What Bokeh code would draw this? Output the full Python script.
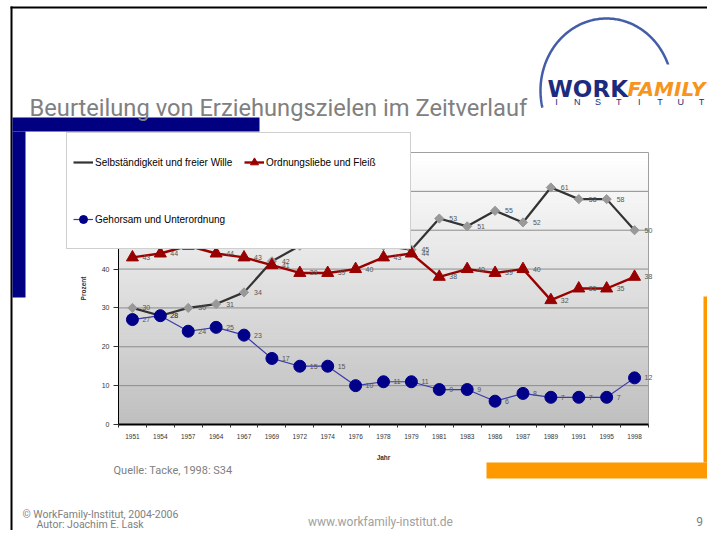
import numpy as np
from bokeh.plotting import figure
from bokeh.models import Range1d, LinearAxis, FixedTicker, Legend, LegendItem
from bokeh.core.properties import value
from bokeh.embed import file_html
from bokeh.resources import INLINE

# ---------------- data ----------------
years = ["1951", "1954", "1957", "1964", "1967", "1969", "1972", "1974", "1976", "1978",
         "1979", "1981", "1983", "1986", "1987", "1989", "1991", "1995", "1998"]
selbst = [30, 28, 30, 31, 34, 42, 46, 49, 48, 46, 45, 53, 51, 55, 52, 61, 58, 58, 50]
ordnung = [43, 44, 46, 44, 43, 41, 39, 39, 40, 43, 44, 38, 40, 39, 40, 32, 35, 35, 38]
gehorsam = [27, 28, 24, 25, 23, 17, 15, 15, 10, 11, 11, 9, 9, 6, 8, 7, 7, 7, 12]
y_ticks = [0, 10, 20, 30, 40, 50, 60, 70]
series_names = ["Selbständigkeit und freier Wille", "Ordnungsliebe und Fleiß",
                "Gehorsam und Unterordnung"]
title_text = "Beurteilung von Erziehungszielen im Zeitverlauf"
source_text = "Quelle: Tacke, 1998: S34"
footer_left = ["© WorkFamily-Institut, 2004-2006", "Autor: Joachim E. Lask"]
footer_mid = "www.workfamily-institut.de"
page_no = "9"
y_title = "Prozent"
x_title = "Jahr"

# ---------------- geometry (picture pixels) ----------------
W, H = 707, 530
PL, PR, PT, PB = 118, 648, 152, 424
YMAX = 70
n = len(years)
cw = (PR - PL) / n


def X(px):
    return (np.asarray(px, dtype=float) - PL) / cw - 0.5


def Y(py):
    return (PB - np.asarray(py, dtype=float)) / (PB - PT) * YMAX


def fx(px):
    return float(X(px))


def fy(py):
    return float(Y(py))


p = figure(width=W, height=H, output_backend="svg", toolbar_location=None,
           x_range=Range1d(fx(0), fx(W)), y_range=Range1d(fy(H), fy(0)),
           x_axis_type=None, y_axis_type=None, min_border=0,
           outline_line_color=None, background_fill_color="white",
           border_fill_color="white")


def box(l, r, t, b, color):
    p.quad(left=fx(l), right=fx(r), top=fy(t), bottom=fy(b),
           fill_color=color, line_color=None)


# slide frame and decorative bars
box(10, 707, 6, 8, "black")
box(10, 12, 6, 530, "black")
box(12, 259, 117, 131, "#000080")
box(12, 25, 131, 297, "#000080")
box(486, 707, 462, 478, "#ff9900")
box(703, 707, 296, 462, "#ff9900")

# title
p.text(x=[fx(29)], y=[fy(107)], text=[title_text], text_font=value("Roboto"),
       text_font_size="23.7px", text_color="#808080", text_baseline="alphabetic")

# logo
t = np.linspace(-0.24, np.pi + 0.24, 200)
cx, cy, rx, ry = 606, 90, 66, 72
p.line(X(cx + rx * np.cos(t)), Y(cy - ry * np.sin(t)), line_color="#2f4b9c",
       line_width=2.5, line_alpha=0.9)
box(546, 707, 64, 110, "white")
p.text(x=[fx(547)], y=[fy(88)], text=["WORK"], text_font=value("DejaVu Sans"),
       text_font_style="bold", text_font_size="23px", text_color="#1c2b7d",
       text_baseline="alphabetic")
p.text(x=[fx(627)], y=[fy(88)], text=["FAMILY"], text_font=value("DejaVu Sans"),
       text_font_style="bold italic", text_font_size="20px", text_color="#f7941d",
       text_baseline="alphabetic")
letters = list("INSTITUT")
p.text(x=X(np.linspace(556, 701, len(letters))), y=[fy(101)] * len(letters), text=letters,
       text_font=value("Liberation Sans"), text_font_size="9px", text_color="#1c2b7d",
       text_align="center", text_baseline="middle")

# chart background gradient
N = 70
edges = np.linspace(0, YMAX, N + 1)
shade = np.linspace(192, 255, N)
cols = ["#%02x%02x%02x" % (int(s), int(s), int(s)) for s in shade]
p.quad(left=-0.5, right=n - 0.5, bottom=edges[:-1], top=edges[1:],
       fill_color=cols, line_color=cols)
p.segment(x0=-0.5, x1=n - 0.5, y0=y_ticks[1:-1], y1=y_ticks[1:-1],
          line_color="#8c8c8c", line_width=1)
p.segment(x0=-0.5, x1=n - 0.5, y0=YMAX, y1=YMAX, line_color="#a0a0a0", line_width=1)
p.segment(x0=n - 0.5, x1=n - 0.5, y0=0, y1=YMAX, line_color="#a0a0a0", line_width=1)

# series
x = list(range(n))
r1l = p.line(x, selbst, line_color="#333333", line_width=2.2)
r1m = p.scatter(x, selbst, marker="square", angle=np.pi / 4, size=6.5,
                fill_color="#999999", line_color="#999999")
r1leg = p.scatter(x=[], y=[], marker="diamond", size=10,
                  fill_color="#999999", line_color="#999999")
r2l = p.line(x, ordnung, line_color="#990000", line_width=2.4)
r2m = p.scatter(x, ordnung, marker="triangle", size=12,
                fill_color="#990000", line_color="#990000")
r3l = p.line(x, gehorsam, line_color="#3b3ba8", line_width=1.2)
r3m = p.scatter(x, gehorsam, marker="circle", size=12,
                fill_color="#000088", line_color="#000088")

for vals in (selbst, ordnung, gehorsam):
    p.text(x=x, y=vals, text=[str(v) for v in vals], x_offset=10,
           text_baseline="middle", text_align="left", text_font_size="7px",
           text_color="#555555", text_font=value("Liberation Sans"))

# axes
yax = LinearAxis(fixed_location=-0.5, bounds=(0, YMAX),
                 ticker=FixedTicker(ticks=y_ticks), minor_tick_line_color=None,
                 major_tick_in=0, major_tick_out=5, major_label_standoff=4,
                 axis_line_color="black", axis_line_width=1,
                 major_tick_line_color="#333333",
                 major_label_text_font="Liberation Sans",
                 major_label_text_font_size="7px", major_label_text_color="#333333",
                 axis_label=y_title, axis_label_text_font="Liberation Sans",
                 axis_label_text_font_size="6.5px", axis_label_text_font_style="bold",
                 axis_label_text_color="#333333", axis_label_standoff=12)
p.add_layout(yax, "left")

xax = LinearAxis(fixed_location=0, bounds=(-0.5, n - 0.5),
                 ticker=FixedTicker(ticks=x, minor_ticks=[i - 0.5 for i in range(n + 1)]),
                 major_tick_line_color=None,
                 minor_tick_line_color="#333333", minor_tick_in=0, minor_tick_out=3,
                 axis_line_color="black", axis_line_width=2,
                 major_label_overrides={i: yr for i, yr in enumerate(years)},
                 major_label_standoff=3,
                 major_label_text_font="Liberation Sans",
                 major_label_text_font_size="6.5px", major_label_text_color="#333333",
                 axis_label=x_title, axis_label_text_font="Liberation Sans",
                 axis_label_text_font_size="6.5px", axis_label_text_font_style="bold",
                 axis_label_text_color="#333333", axis_label_standoff=12)
p.add_layout(xax, "below")

# legend
legend = Legend(items=[LegendItem(label=series_names[0], renderers=[r1l, r1leg]),
                       LegendItem(label=series_names[1], renderers=[r2l, r2m]),
                       LegendItem(label=series_names[2], renderers=[r3l, r3m])],
                location=(66, H - 249), orientation="horizontal", ncols=2,
                glyph_width=20, glyph_height=46, label_height=46, label_width=138,
                label_standoff=2, spacing=11, padding=6, margin=0,
                label_text_font="Liberation Sans", label_text_font_size="10px",
                label_text_color="black", border_line_color="#a0a0a0",
                border_line_width=1, background_fill_color="white",
                background_fill_alpha=1.0)
p.add_layout(legend)

# source and footer
p.text(x=[fx(113)], y=[fy(470)], text=[source_text], text_font=value("Roboto"),
       text_font_size="11px", text_color="#808080", text_baseline="middle")
p.text(x=[fx(22), fx(36)], y=[fy(514), fy(524)], text=footer_left,
       text_font=value("Roboto"),
       text_font_size="10.5px", text_color="#808080", text_baseline="middle")
p.text(x=[fx(380)], y=[fy(521)], text=[footer_mid], text_font=value("Roboto"),
       text_font_size="12px", text_color="#a0a0a0", text_baseline="middle",
       text_align="center")
p.text(x=[fx(699)], y=[fy(521)], text=[page_no], text_font=value("Roboto"),
       text_font_size="12px", text_color="#808080", text_baseline="middle",
       text_align="center")

open("out.html", "w").write(file_html(p, INLINE))
